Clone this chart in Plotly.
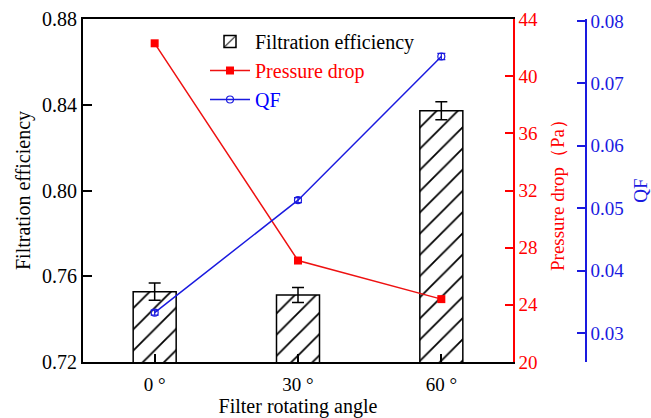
import plotly.graph_objects as go

angles = ["0 °", "30 °", "60 °"]
efficiency = [0.7528, 0.7513, 0.8372]
efficiency_err = [0.0040, 0.0035, 0.0042]
pressure = [42.3, 27.1, 24.4]
qf = [0.0333, 0.0513, 0.0743]
qf_err = [0.0004, 0.0004, 0.0005]

FONT = "Liberation Serif"

fig = go.Figure()
fig.add_trace(go.Bar(
    x=angles, y=efficiency, name="Filtration efficiency", width=0.3,
    marker=dict(color="white", line=dict(color="black", width=1.5),
                pattern=dict(shape="/", fgcolor="black", bgcolor="white", fgopacity=1,
                             size=15, solidity=0.12)),
    error_y=dict(type="data", array=efficiency_err, color="black", thickness=1.5, width=6),
    yaxis="y",
))
fig.add_trace(go.Scatter(
    x=angles, y=pressure, name='<span style="color:#ff0000">Pressure drop</span>',
    mode="lines+markers", line=dict(color="#ee1111", width=1.5),
    marker=dict(symbol="square", size=8, color="#ff0000"),
    yaxis="y2",
))
fig.add_trace(go.Scatter(
    x=angles, y=qf, name='<span style="color:#0000ff">QF</span>',
    mode="lines+markers", line=dict(color="#1a1adf", width=1.5),
    marker=dict(symbol="circle-open", size=7, color="#1a1adf", line=dict(width=1.2)),
    error_y=dict(type="data", array=qf_err, color="#1a1adf", thickness=1.2, width=4),
    yaxis="y3",
))

W = 651 - 83 - 51
fig.update_layout(
    width=651, height=418,
    margin=dict(l=83, r=51, t=19, b=56),
    paper_bgcolor="white", plot_bgcolor="white",
    font=dict(family=FONT, size=19, color="black"),
    showlegend=True,
    legend=dict(x=(205 - 83) / W, y=1 - (22 - 19) / 343, xanchor="left", yanchor="top",
                bgcolor="rgba(0,0,0,0)", font=dict(family=FONT, size=20, color="black"),
                tracegroupgap=3, itemwidth=40),
    bargap=0.7,
    xaxis=dict(domain=[0, 430 / W], showline=True, linecolor="black", linewidth=2, mirror=True,
               ticks="inside", ticklen=8, tickcolor="black", tickwidth=1.5, automargin=False,
               showgrid=False, tickfont=dict(size=19), ticklabelstandoff=4,
               title=dict(text="Filter rotating angle", font=dict(size=20), standoff=10)),
    yaxis=dict(range=[0.72, 0.88], tickvals=[0.72, 0.76, 0.80, 0.84, 0.88], tickformat=".2f",
               showline=True, linecolor="black", linewidth=2, ticks="inside", ticklen=9,
               tickcolor="black", tickwidth=1.5, showgrid=False, zeroline=False, automargin=False,
               tickfont=dict(size=20),
               title=dict(text="Filtration efficiency", font=dict(size=20), standoff=6)),
    yaxis2=dict(range=[20, 44], tickvals=[20, 24, 28, 32, 36, 40, 44], overlaying="y", side="right",
                anchor="x", showline=True, linecolor="#ff0000", linewidth=1.5, ticks="inside",
                ticklen=8, tickcolor="#ff0000", tickwidth=1.5, showgrid=False, zeroline=False,
                automargin=False, tickfont=dict(size=19, color="#ff0000"),
                title=dict(text="Pressure drop（Pa）", font=dict(size=19, color="#ff0000"), standoff=14)),
    yaxis3=dict(range=[0.0254, 0.0803], tickvals=[0.03, 0.04, 0.05, 0.06, 0.07, 0.08], tickformat=".2f",
                overlaying="y", side="right", anchor="free", position=(586 - 83) / W,
                showline=True, linecolor="#1a1adf", linewidth=1.5, ticks="inside", ticklen=8,
                tickcolor="#1a1adf", tickwidth=1.5, showgrid=False, zeroline=False, automargin=False,
                tickfont=dict(size=19, color="#1a1adf"),
                title=dict(text="QF", font=dict(size=19, color="#1a1adf"), standoff=14)),
)

fig.write_html("out.html")
